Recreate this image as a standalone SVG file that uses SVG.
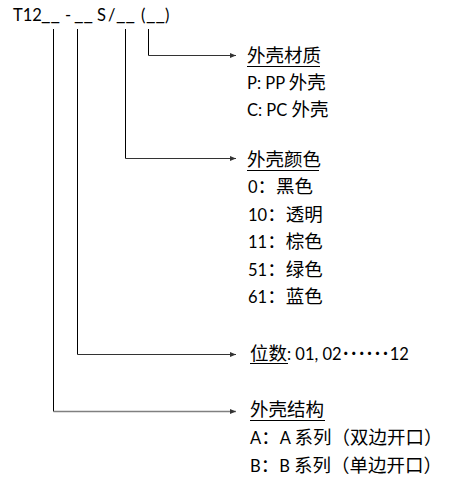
<svg xmlns="http://www.w3.org/2000/svg" width="465" height="500" viewBox="0 0 465 500">
<defs>
<style>
.t{font-family:Lato,"Noto Sans CJK SC",sans-serif;font-size:16.5px;fill:#000}
.c{font-family:"Noto Sans CJK SC",sans-serif;font-size:18.5px}
.v{stroke:#000;stroke-width:1;fill:none}
.h{stroke:#333;stroke-width:1;fill:none;marker-end:url(#ah)}
.u{stroke:#000;stroke-width:1}
</style>
<marker id="ah" markerUnits="userSpaceOnUse" markerWidth="6" markerHeight="6" refX="6" refY="3" orient="auto">
<path d="M0,0.5 L6,3 L0,5.5 z" fill="#333"/>
</marker>
</defs>
<rect width="465" height="500" fill="#fff"/>
<g id="code">
<text class="t" y="21"><tspan x="13">T12</tspan><tspan x="41" textLength="19" lengthAdjust="spacingAndGlyphs">__</tspan><tspan x="65">-</tspan><tspan x="74" textLength="19" lengthAdjust="spacingAndGlyphs">__</tspan><tspan x="97">S</tspan><tspan x="108">/</tspan><tspan x="116" textLength="19" lengthAdjust="spacingAndGlyphs">__</tspan><tspan x="141">(</tspan><tspan x="146" textLength="19" lengthAdjust="spacingAndGlyphs">__</tspan><tspan x="165">)</tspan></text>
</g>
<g id="connectors">
<path class="v" d="M53.5,29 V411.5"/>
<path class="v" d="M77.5,29 V354.5"/>
<path class="v" d="M125.5,29 V158.5"/>
<path class="v" d="M148.5,29 V55.5"/>
<path class="h" d="M148.5,55.5 H236"/>
<path class="h" d="M125.5,158.5 H236"/>
<path class="h" d="M77.5,354.5 H236"/>
<path class="h" d="M53.5,411.5 H236" style="stroke:#808080;stroke-width:1.5"/>
</g>
<g id="material">
<text class="t" x="247" y="62"><tspan class="c">外壳材质</tspan></text>
<line class="u" x1="247" y1="66.5" x2="320" y2="66.5"/>
<text class="t" x="247" y="89">P: PP <tspan class="c">外壳</tspan></text>
<text class="t" x="247" y="116">C: PC <tspan class="c">外壳</tspan></text>
</g>
<g id="color">
<text class="t" x="247" y="166"><tspan class="c">外壳颜色</tspan></text>
<line class="u" x1="247" y1="170.5" x2="319" y2="170.5"/>
<text class="t" x="248" y="193">0<tspan class="c">：黑色</tspan></text>
<text class="t" x="248" y="220.5">10<tspan class="c">：透明</tspan></text>
<text class="t" x="248" y="248">11<tspan class="c">：棕色</tspan></text>
<text class="t" x="248" y="275.5">51<tspan class="c">：绿色</tspan></text>
<text class="t" x="248" y="303">61<tspan class="c">：蓝色</tspan></text>
</g>
<g id="digits">
<text class="t" x="250" y="360"><tspan class="c">位数</tspan>: 01, 02<tspan class="c" style="font-size:24px" dy="2">……</tspan><tspan dy="-2">12</tspan></text>
<line class="u" x1="250" y1="363.5" x2="288" y2="363.5"/>
</g>
<g id="structure">
<text class="t" x="250" y="416"><tspan class="c">外壳结构</tspan></text>
<line class="u" x1="250" y1="420.5" x2="325" y2="420.5"/>
<text class="t" x="250" y="444">A<tspan class="c">：</tspan>A <tspan class="c">系列（双边开口）</tspan></text>
<text class="t" x="250" y="472">B<tspan class="c">：</tspan>B <tspan class="c">系列（单边开口）</tspan></text>
</g>
</svg>
